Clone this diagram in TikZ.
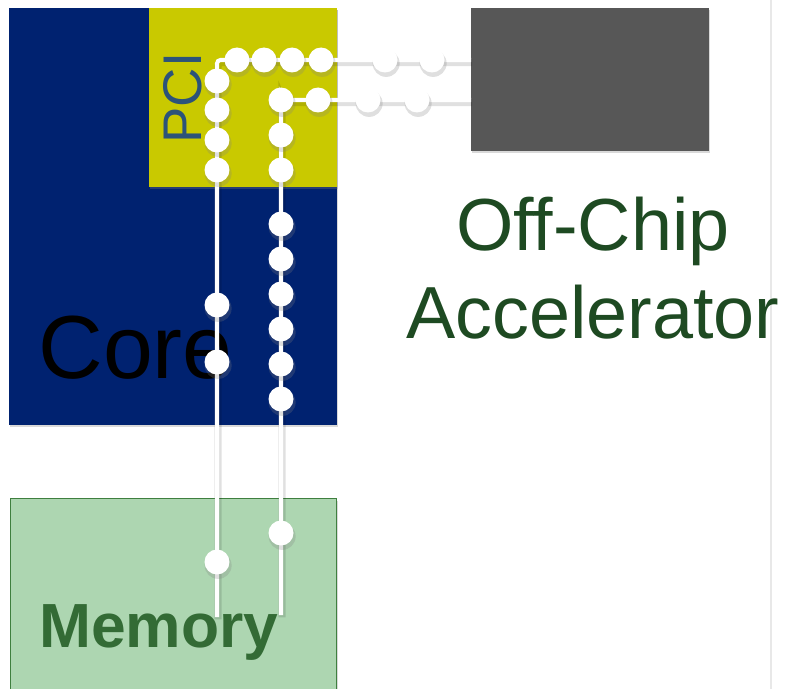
\documentclass[tikz,border=0pt]{standalone}
\usepackage{fontspec}
\setmainfont{Liberation Sans}
\usetikzlibrary{shadows}
\definecolor{coreblue}{HTML}{002270}
\definecolor{pciyellow}{HTML}{C9C900}
\definecolor{pcitext}{HTML}{2C5379}
\definecolor{accelgrey}{HTML}{575757}
\definecolor{offgreen}{HTML}{1E4A22}
\definecolor{memfill}{HTML}{ADD6B1}
\definecolor{memdraw}{HTML}{3F7F3F}
\definecolor{memtext}{HTML}{336B35}

\begin{document}
\begin{tikzpicture}[x=0.02cm, y=-0.02cm,
          shade/.style={drop shadow={opacity=0.3, shadow xshift=0.6pt, shadow yshift=-1.2pt}},
          box/.style={anchor=north west, inner sep=0pt, shade},
          wire/.style={white, line width=2.3pt, rounded corners=2pt,
                       preaction={draw=black, opacity=0.12, line width=4.2pt, transform canvas={xshift=0.6pt, yshift=-1.4pt}}},
          dot/.style={circle, fill=white, minimum size=0.5cm, inner sep=0pt,
                      drop shadow={opacity=0.25, shadow xshift=0.6pt, shadow yshift=-1.8pt, shadow scale=1.08}}]
        \useasboundingbox (0,0) rectangle (788,689);
        \draw[black!9, line width=0.8pt] (771,0) -- (771,689);
        % blocks
        \node[box, fill=coreblue, minimum width=6.56cm, minimum height=8.34cm] (core) at (9,8) {};
        \node[box, fill=pciyellow, minimum width=3.76cm, minimum height=3.58cm] (pci) at (149,8) {};
        \node[box, fill=accelgrey, minimum width=4.76cm, minimum height=2.86cm] (accel) at (471,8) {};
        \node[box, fill=memfill, draw=memdraw, line width=0.6pt, minimum width=6.52cm, minimum height=4cm] (mem) at (10,498) {};
        % labels
        \node[anchor=base west, inner sep=0pt, font=\fontsize{51}{51}\selectfont] (corelbl) at (38,378) {Core};
        \node[rotate=90, inner sep=0pt, text=pcitext, font=\fontsize{31}{31}\selectfont] (pcilbl) at (183,98) {PCI};
        \node[align=center, inner sep=0pt, text=offgreen, font=\fontsize{42}{50}\selectfont] (offlbl) at (593,268) {Off-Chip\\Accelerator};
        \node[anchor=base west, inner sep=0pt, text=memtext, font=\fontsize{35.5}{36}\selectfont\bfseries] (memlbl) at (39,647) {Memory};
        % wires
        \coordinate (m1) at (217,617);
        \coordinate (m2) at (281,615);
        \coordinate (h1) at (237,60);
        \coordinate (h2) at (281,100);
        \draw[wire] (m1) |- (h1) -- (accel.west |- h1);
        \draw[wire] (m2) |- (h2) -- (accel.west |- h2);
        % dots
        \foreach \x [count=\i] in {237,264,292,321,385,432} {\node[dot] (a\i) at (\x,60) {};}
        \foreach \y [count=\i] in {81,110,140,170,305,362,562} {\node[dot] (b\i) at (217,\y) {};}
        \foreach \x [count=\i] in {281,318,368,417} {\node[dot] (c\i) at (\x,100) {};}
        \foreach \y [count=\i] in {135,170,224,259,294,329,364,399,533} {\node[dot] (d\i) at (281,\y) {};}
      \end{tikzpicture}
\end{document}
